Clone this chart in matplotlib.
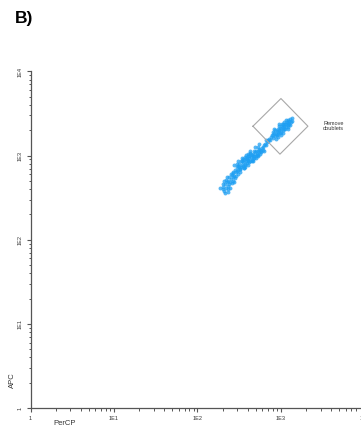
import numpy as np
import matplotlib
matplotlib.use("Agg")
import matplotlib.pyplot as plt
from matplotlib.ticker import NullFormatter, LogLocator

plt.rcParams["font.family"] = ["Liberation Sans", "DejaVu Sans"]

# decade positions (log10) of events
percp_log10 = [
    # dense core
    2.45, 2.47, 2.48, 2.50, 2.50, 2.52, 2.53, 2.53, 2.55, 2.55, 2.56, 2.57, 2.58, 2.58,
    2.59, 2.60, 2.60, 2.61, 2.62, 2.62, 2.63, 2.64, 2.65, 2.65, 2.66, 2.67, 2.68, 2.68,
    2.69, 2.70, 2.71, 2.72, 2.73, 2.74, 2.75, 2.76, 2.77, 2.78, 2.79, 2.80,
    2.51, 2.54, 2.57, 2.59, 2.61, 2.63, 2.66, 2.70, 2.72, 2.74, 2.56, 2.49,
    # core edges
    2.435, 2.485, 2.535, 2.585, 2.635, 2.685, 2.735,
    2.505, 2.555, 2.605, 2.655, 2.705, 2.755, 2.800,
    2.475, 2.525, 2.575, 2.625, 2.675, 2.725,
    2.515, 2.565, 2.615, 2.665, 2.715, 2.765,
    # lower tail
    2.30, 2.31, 2.32, 2.33, 2.34, 2.35, 2.36, 2.37, 2.38, 2.38, 2.39, 2.40, 2.41, 2.41,
    2.42, 2.43, 2.43, 2.44, 2.45, 2.46, 2.46, 2.47, 2.36, 2.34, 2.40,
    2.30, 2.33, 2.35, 2.39, 2.42, 2.44, 2.37, 2.32, 2.48, 2.27,
    # waist
    2.81, 2.82, 2.83, 2.84, 2.85, 2.86, 2.87, 2.82,
    # doublets
    2.88, 2.89, 2.90, 2.91, 2.92, 2.93, 2.94, 2.95, 2.95, 2.96, 2.97, 2.97, 2.98, 2.99,
    3.00, 3.00, 3.01, 3.02, 3.02, 3.03, 3.04, 3.04, 3.05, 3.06, 3.06, 3.07, 3.08, 3.08,
    3.09, 3.10, 3.10, 3.11, 3.12, 3.13, 3.05, 2.99, 3.01, 2.93, 3.09, 2.98,
    2.92, 2.96, 2.98, 3.03, 3.06, 3.11, 2.90, 3.00, 3.04, 3.08, 3.13, 2.94,
]
apc_log10 = [
    2.83, 2.86, 2.83, 2.87, 2.90, 2.86, 2.89, 2.93, 2.88, 2.92, 2.95, 2.90, 2.93, 2.97,
    2.91, 2.95, 2.99, 2.93, 2.97, 3.00, 2.94, 2.98, 3.01, 2.95, 2.99, 3.02, 2.97, 3.00,
    3.04, 2.99, 3.02, 3.05, 3.01, 3.04, 3.07, 3.04, 3.09, 3.07, 3.10, 3.12,
    2.84, 2.96, 2.87, 2.96, 3.02, 3.03, 2.93, 3.06, 2.99, 3.08, 2.85, 2.88,
    2.89, 2.93, 2.97, 3.01, 3.055, 3.10, 3.14,
    2.81, 2.85, 2.89, 2.935, 2.975, 3.02, 3.06,
    2.895, 2.935, 2.98, 3.02, 3.06, 3.10,
    2.84, 2.885, 2.925, 2.965, 3.01, 3.05,
    2.60, 2.63, 2.58, 2.66, 2.62, 2.68, 2.64, 2.70, 2.66, 2.74, 2.69, 2.72, 2.67, 2.77,
    2.74, 2.70, 2.79, 2.76, 2.73, 2.80, 2.76, 2.82, 2.57, 2.71, 2.78,
    2.66, 2.56, 2.74, 2.62, 2.81, 2.68, 2.60, 2.70, 2.78, 2.62,
    3.14, 3.12, 3.16, 3.18, 3.17, 3.20, 3.19, 3.19,
    3.22, 3.25, 3.21, 3.24, 3.27, 3.23, 3.26, 3.29, 3.24, 3.28, 3.31, 3.26, 3.30, 3.33,
    3.28, 3.32, 3.35, 3.30, 3.34, 3.37, 3.32, 3.35, 3.38, 3.34, 3.37, 3.40, 3.36, 3.39,
    3.42, 3.38, 3.41, 3.44, 3.40, 3.45, 3.31, 3.27, 3.38, 3.30, 3.34, 3.35,
    3.32, 3.22, 3.38, 3.27, 3.42, 3.36, 3.28, 3.24, 3.40, 3.31, 3.41, 3.20,
]

# "Remove doublets" gate corners (left, top, right, bottom)
gate_x = [462, 1000, 2104, 973]
gate_y = [2234, 4764, 2234, 1040]

ticks = [1, 10, 100, 1000, 10000]
tick_labels = ["1", "1E1", "1E2", "1E3", "1E4"]

fig = plt.figure(figsize=(3.61, 4.26), dpi=100)
ax = fig.add_axes([0.0845, 0.0423, 0.925, 0.790])

ax.scatter(10 ** np.array(percp_log10), 10 ** np.array(apc_log10),
           s=8, color="#1E9FF2", alpha=0.75, linewidths=0)
ax.plot(gate_x + gate_x[:1], gate_y + gate_y[:1], color="#a8a8a8", lw=0.8)

ax.set_xscale("log")
ax.set_yscale("log")
ax.set_xlim(1, 10000)
ax.set_ylim(1, 10000)

for a in (ax.xaxis, ax.yaxis):
    a.set_minor_locator(LogLocator(base=10, subs=np.arange(2, 10)))
    a.set_minor_formatter(NullFormatter())
ax.set_xticks(ticks, tick_labels)
ax.set_yticks(ticks, tick_labels)
for lab in ax.get_yticklabels():
    lab.set_rotation(90)
    lab.set_va("center")

ax.tick_params(which="major", length=3, width=0.8, color="#555555",
               labelsize=4, labelcolor="#333333", pad=3)
ax.tick_params(which="minor", length=1.8, width=0.7, color="#555555")

for s in ("top", "right"):
    ax.spines[s].set_visible(False)
for s in ("left", "bottom"):
    ax.spines[s].set_color("#555555")
    ax.spines[s].set_linewidth(0.9)

fig.text(323 / 361, 300 / 426, "Remove\ndoublets", fontsize=4, va="center",
         ha="left", color="#333333", linespacing=1.2)
fig.text(12 / 361, 46 / 426, "APC", fontsize=5.5, rotation=90, va="center",
         ha="center", color="#333333")
fig.text(64.5 / 361, 6 / 426, "PerCP", fontsize=5.5, va="top", ha="center",
         color="#333333")
fig.text(15 / 361, 403 / 426, "B)", fontsize=12.5, fontweight="bold",
         va="baseline", ha="left")

fig.savefig("out.png", dpi=100)
